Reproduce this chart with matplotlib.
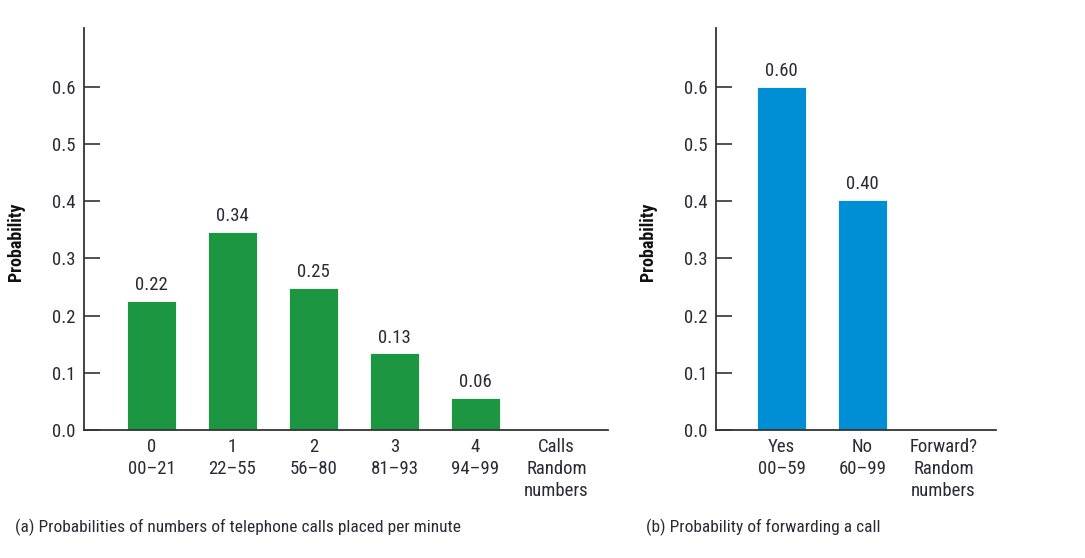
from matplotlib import pyplot as plt
import numpy as np

# Part 1 data
calls_labels = ['0\n00\u201321', '1\n22\u201355', '2\n56\u201380', '3\n81\u201393', '4\n94\u201399', 'Calls\nRandom\nnumbers']
calls_prob = [0.225, 0.347, 0.249, 0.134, 0.056]
calls_text = ['0.22', '0.34', '0.25', '0.13', '0.06']

fwd_labels = ['Yes\n00\u201359', 'No\n60\u201399', 'Forward?\nRandom\nnumbers']
fwd_prob = [0.60, 0.403]
fwd_text = ['0.60', '0.40']

yticks = [0.0, 0.1, 0.2, 0.3, 0.4, 0.5, 0.6]

green = '#1c9640'
blue = '#008fd5'
txt = '#2a2a36'

plt.rcParams['font.family'] = ['Roboto Condensed', 'DejaVu Sans']
plt.rcParams['font.size'] = 13.5

fig = plt.figure(figsize=(10.85, 5.58), dpi=100)

def panel(rect, vals, texts, labels, color, xlim, caption, cap_x, ylab_x):
    ax = fig.add_axes(rect)
    x = np.arange(len(vals))
    ax.bar(x, vals, width=0.6, color=color, edgecolor='white', linewidth=0.6)
    for xi, v, t in zip(x, vals, texts):
        ax.text(xi, v + 0.012, t, ha='center', va='bottom', color=txt, fontsize=13.5)
    ax.set_xticks(np.arange(len(labels)))
    ax.set_xticklabels(labels, color=txt, fontsize=13.5, va='top', linespacing=1.28)
    ax.tick_params(axis='x', length=0, pad=6)
    ax.set_yticks(yticks)
    ax.set_yticklabels(['%.1f' % t for t in yticks], color=txt, fontsize=13.5)
    ax.tick_params(axis='y', direction='in', length=11.5, width=1.2, color='#333333', pad=6)
    ax.set_xlim(xlim)
    ax.set_ylim(0, 0.703)
    for s in ['top', 'right']:
        ax.spines[s].set_visible(False)
    for s in ['left', 'bottom']:
        ax.spines[s].set_color('#333333')
        ax.spines[s].set_linewidth(1.3)
    ax.set_ylabel('Probability', fontweight='bold', fontsize=13, color='#111111')
    ax.yaxis.set_label_coords(ylab_x, 0.468)
    fig.text(cap_x, 0.055, caption, color=txt, fontsize=12.5, ha='left', va='center')
    return ax

panel([0.0774, 0.2294, 0.483, 0.7204], calls_prob, calls_text, calls_labels, green,
      (-0.833, 5.636), '(a) Probabilities of numbers of telephone calls placed per minute', 0.0138, -0.113)
panel([0.6599, 0.2294, 0.258, 0.7204], fwd_prob, fwd_text, fwd_labels, blue,
      (-0.809, 2.648), '(b) Probability of forwarding a call', 0.5954, -0.21)

plt.savefig('out.png', dpi=100)
